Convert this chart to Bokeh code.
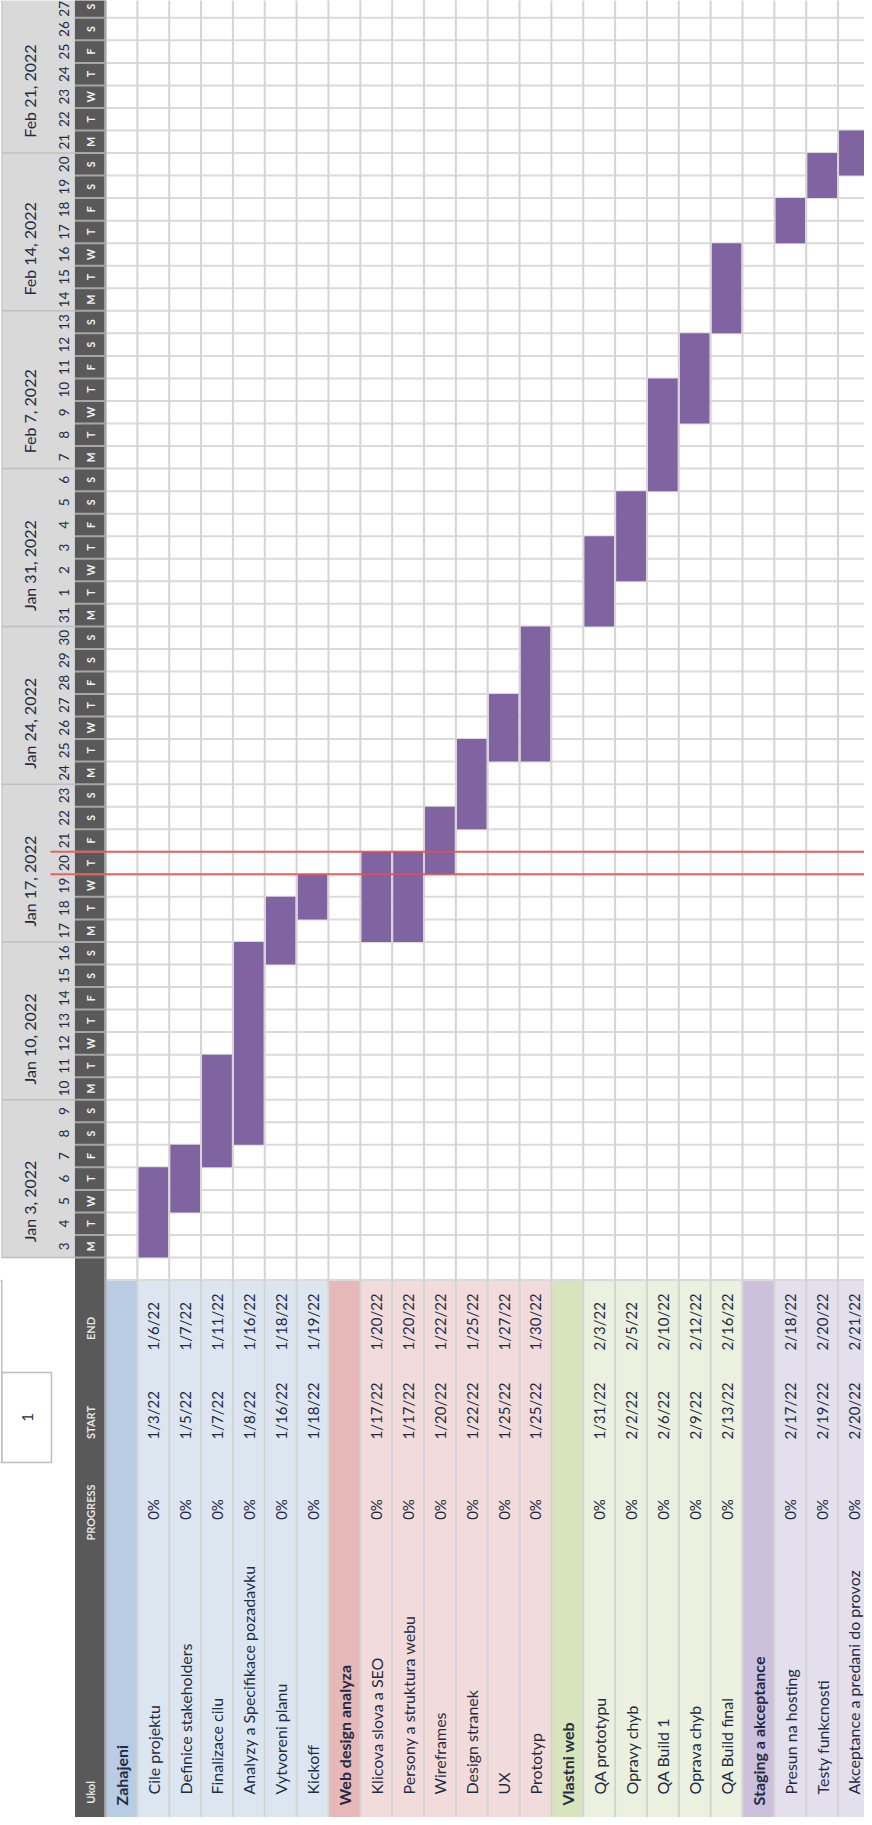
import math
import pandas as pd
from bokeh.plotting import figure
from bokeh.models import Range1d, ColumnDataSource
from bokeh.core.properties import value
from bokeh.embed import file_html
from bokeh.resources import INLINE

# ---------------- data ----------------
row_names = ["Zahajeni", "Cile projektu", "Definice stakeholders", "Finalizace cilu",
             "Analyzy a Specifikace pozadavku", "Vytvoreni planu", "Kickoff",
             "Web design analyza", "Klicova slova a SEO", "Persony a struktura webu",
             "Wireframes", "Design stranek", "UX", "Prototyp",
             "Vlastni web", "QA prototypu", "Opravy chyb", "QA Build 1", "Oprava chyb",
             "QA Build final",
             "Staging a akceptance", "Presun na hosting", "Testy funkcnosti",
             "Akceptance a predani do  provoz"]
row_is_header = [1, 0, 0, 0, 0, 0, 0,
                 1, 0, 0, 0, 0, 0, 0,
                 1, 0, 0, 0, 0, 0,
                 1, 0, 0, 0]
row_section = [0, 0, 0, 0, 0, 0, 0,
               1, 1, 1, 1, 1, 1, 1,
               2, 2, 2, 2, 2, 2,
               3, 3, 3, 3]
row_progress = ["", "0%", "0%", "0%", "0%", "0%", "0%",
                "", "0%", "0%", "0%", "0%", "0%", "0%",
                "", "0%", "0%", "0%", "0%", "0%",
                "", "0%", "0%", "0%"]
row_start = ["", "1/3/22", "1/5/22", "1/7/22", "1/8/22", "1/16/22", "1/18/22",
             "", "1/17/22", "1/17/22", "1/20/22", "1/22/22", "1/25/22", "1/25/22",
             "", "1/31/22", "2/2/22", "2/6/22", "2/9/22", "2/13/22",
             "", "2/17/22", "2/19/22", "2/20/22"]
row_end = ["", "1/6/22", "1/7/22", "1/11/22", "1/16/22", "1/18/22", "1/19/22",
           "", "1/20/22", "1/20/22", "1/22/22", "1/25/22", "1/27/22", "1/30/22",
           "", "2/3/22", "2/5/22", "2/10/22", "2/12/22", "2/16/22",
           "", "2/18/22", "2/20/22", "2/21/22"]
header_labels = ["END", "START", "PROGRESS", "Ukol"]
day_letters = ["M", "T", "W", "T", "F", "S", "S"]
display_start = "1/3/22"
n_weeks = 8
today = "1/20/22"
header_fill = ["#B8CCE4", "#E6B8B7", "#D7E4BC", "#CCC0DA"]
task_fill = ["#DCE6F1", "#F2DCDB", "#EBF1DE", "#E4DFEC"]

# ---------------- layout (pixel geometry of the sheet) ----------------
W, H = 864, 1817
OX, OY = 8, 8            # page margin
COL0, COLW = 113.0, 31.85   # first task column left edge, column pitch
DAY0, DAYH = 1265.0, 22.54  # bottom of first day cell, day pitch


def u(X):
    return (X - COL0) / COLW


def v(Y):
    return (DAY0 - Y) / DAYH


t0 = pd.to_datetime(display_start, format="%m/%d/%y")
n_days = n_weeks * 7
n_rows = len(row_names)

p = figure(width=W, height=H, output_backend="svg", toolbar_location=None,
           x_range=Range1d(u(OX), u(OX + W)), y_range=Range1d(v(OY + H), v(OY)),
           x_axis_location=None, y_axis_location=None, min_border=0,
           background_fill_color="white", border_fill_color="white")
p.outline_line_color = None
p.xgrid.visible = False
p.ygrid.visible = False

FONT = value("Lato")
TXT = "#232B44"
ROT = math.pi / 2
v_bottom = v(OY + H)
v_top = v(OY)

# date header region (light grey) and dark weekday column
p.quad(left=[u(9.3)], right=[u(82.5)], bottom=[0], top=[n_days], fill_color="#D9D9D9",
       line_color="#BFBFBF", line_width=1)
p.quad(left=[u(82.5)], right=[u(112.5)], bottom=[v_bottom], top=[n_days],
       fill_color="#595959", line_color=None)

# table fills
fills = [header_fill[s] if h else task_fill[s] for s, h in zip(row_section, row_is_header)]
p.quad(left=list(range(n_rows)), right=[i + 1 for i in range(n_rows)],
       bottom=[v_bottom] * n_rows, top=[-1] * n_rows, fill_color=fills, line_color=None)

# horizontal grid (day rows)
hx0 = [0] * (n_days + 2)
hx1 = [n_rows + 1] * (n_days + 2)
hy = list(range(-1, n_days + 1))
p.segment(x0=hx0, y0=hy, x1=hx1, y1=hy, line_color="#DADADA", line_width=2)

# bars
starts = pd.to_datetime(pd.Series(row_start), format="%m/%d/%y", errors="coerce")
ends = pd.to_datetime(pd.Series(row_end), format="%m/%d/%y", errors="coerce")
bar_idx = [i for i in range(n_rows) if not row_is_header[i]]
b_bottom = [(starts[i] - t0).days for i in bar_idx]
b_top = [(ends[i] - t0).days + 1 for i in bar_idx]
p.quad(left=[i + 0.03 for i in bar_idx], right=[i + 0.97 for i in bar_idx],
       bottom=b_bottom, top=b_top, fill_color="#8064A2", line_color=None)

# vertical grid (task columns)
vx = list(range(0, n_rows + 1))
p.segment(x0=vx, y0=[v_bottom] * len(vx), x1=vx, y1=[n_days] * len(vx),
          line_color="#D4D4D4", line_width=2)
p.segment(x0=[0], y0=[v_bottom], x1=[0], y1=[n_days], line_color="#A6A6A6", line_width=2)

# weekday cell separators and week separators
dy = list(range(0, n_days + 1))
p.segment(x0=[u(82.5)] * len(dy), y0=dy, x1=[u(112.5)] * len(dy), y1=dy,
          line_color="#A6A6A6", line_width=2)
wy = list(range(0, n_days + 1, 7))
p.segment(x0=[u(9.3)] * len(wy), y0=wy, x1=[u(82.5)] * len(wy), y1=wy,
          line_color="#BFBFBF", line_width=1.5)

# side boxes
p.quad(left=[u(0)], right=[u(9.3)], bottom=[v(1470)], top=[v(1288)], fill_color=None,
       line_color="#BFBFBF", line_width=1.5)
p.quad(left=[u(9.3)], right=[u(59)], bottom=[v(1470)], top=[v(1380)], fill_color=None,
       line_color="#BFBFBF", line_width=1.5)
p.text(x=[u(35)], y=[v(1425)], text=["1"], angle=ROT, text_align="center",
       text_baseline="middle", text_font=FONT, text_font_size="15px", text_color=TXT)

# today lines
td = (pd.to_datetime(today, format="%m/%d/%y") - t0).days
p.segment(x0=[u(58), u(58)], y0=[td, td + 1], x1=[n_rows + 1] * 2, y1=[td, td + 1],
          line_color="#E05050", line_width=2, line_alpha=0.85)

# date header texts
days = [t0 + pd.Timedelta(days=k) for k in range(n_days)]
num_y = [min(k + 0.5, v_top - 0.37) for k in range(n_days)]
p.text(x=[u(71)] * n_days, y=num_y, text=[str(d.day) for d in days],
       angle=ROT, text_align="center", text_baseline="middle", text_font=FONT,
       text_font_size="13.5px", text_color=TXT)
p.text(x=[u(98)] * n_days, y=[k + 0.5 for k in range(n_days)],
       text=[day_letters[d.weekday()] for d in days], angle=ROT, text_align="center",
       text_baseline="middle", text_font=FONT, text_font_size="10.5px",
       text_font_style="bold", text_color="#F2F2F2")
weeks = [t0 + pd.Timedelta(days=7 * w) for w in range(n_weeks)]
p.text(x=[u(36.5)] * n_weeks, y=[7 * w + 0.68 for w in range(n_weeks)],
       text=[f"{d:%b} {d.day}, {d.year}" for d in weeks], angle=ROT, text_align="left",
       text_baseline="middle", text_font=FONT, text_font_size="16px", text_color=TXT)

# table header labels (in dark column)
p.text(x=[u(98)] * 4, y=[v(1336), v(1430), v(1520), v(1800)], text=header_labels, angle=ROT,
       text_align="center", text_baseline="middle", text_font=FONT, text_font_size="11px",
       text_font_style="bold", text_color="#E6E6E6")

# table texts
cx = [i + 0.5 for i in range(n_rows)]
names_y = [v(1813) if h else v(1802) for h in row_is_header]
styles = ["bold" if h else "normal" for h in row_is_header]
src = ColumnDataSource(dict(x=cx, y=names_y, t=row_names, st=styles))
p.text(x="x", y="y", text="t", text_font_style="st", source=src, angle=ROT,
       text_align="left", text_baseline="middle", text_font=FONT, text_font_size="16px",
       text_color=TXT)
p.text(x=cx, y=[v(1517)] * n_rows, text=row_progress, angle=ROT, text_align="center",
       text_baseline="middle", text_font=FONT, text_font_size="15px", text_color=TXT)
p.text(x=cx, y=[v(1447)] * n_rows, text=row_start, angle=ROT, text_align="left",
       text_baseline="middle", text_font=FONT, text_font_size="15px", text_color=TXT)
p.text(x=cx, y=[v(1358)] * n_rows, text=row_end, angle=ROT, text_align="left",
       text_baseline="middle", text_font=FONT, text_font_size="15px", text_color=TXT)

open("out.html", "w").write(file_html(p, INLINE))
